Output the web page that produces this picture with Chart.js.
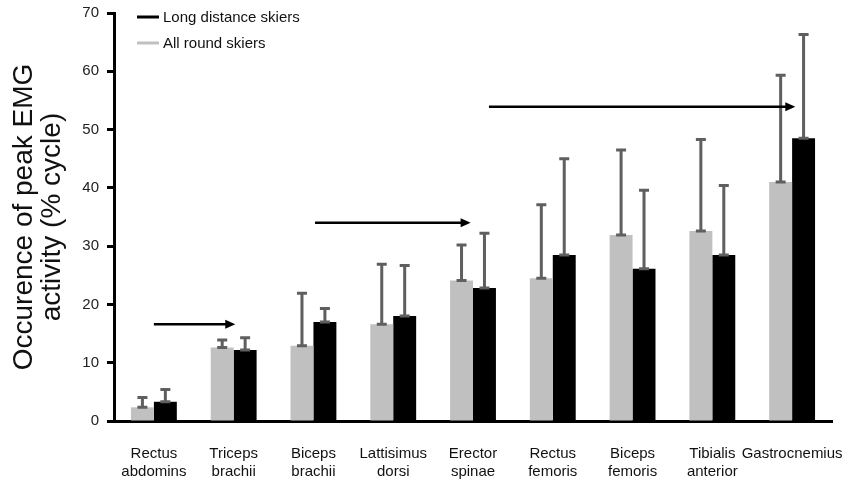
<!DOCTYPE html>
<html>
<head>
<meta charset="utf-8">
<script src="https://cdn.jsdelivr.net/npm/chart.js@4.4.1/dist/chart.umd.min.js"></script>
<style>
html,body{margin:0;padding:0;background:#fff;}
</style>
</head>
<body>
<canvas id="chart1" width="853" height="480"></canvas>
<script>
// muscle groups (x categories)
const muscles = [
  ["Rectus","abdomins"], ["Triceps","brachii"], ["Biceps","brachii"],
  ["Lattisimus","dorsi"], ["Erector","spinae"], ["Rectus","femoris"],
  ["Biceps","femoris"], ["Tibialis","anterior"], "Gastrocnemius"
]
// mean occurence of peak EMG (% cycle)
const allRound   = [2.35, 12.6, 12.9, 16.6, 24.1, 24.5, 31.9, 32.6, 41.0]
const allRoundSd = [1.7, 1.3, 9.0, 10.3, 6.1, 12.6, 14.6, 15.7, 18.3]
const longDist   = [3.3, 12.2, 17.0, 18.0, 22.8, 28.5, 26.1, 28.5, 48.5]
const longDistSd = [2.1, 2.1, 2.3, 8.7, 9.4, 16.5, 13.5, 11.9, 17.8]
// shift arrows: from/to in category units, y in % cycle
const arrows = [
  {from:0.0, to:1.02, y:16.6},
  {from:2.02, to:3.97, y:34.0},
  {from:4.2, to:8.04, y:53.9}
]
const yMax = 70
const yStep = 10

const font = "'Liberation Sans', Arial, sans-serif"

const errBars = {
  id:'errBars',
  afterDatasetsDraw(chart){
    const ctx = chart.ctx, ys = chart.scales.y
    chart.data.datasets.forEach((ds,i)=>{
      const meta = chart.getDatasetMeta(i)
      meta.data.forEach((bar,j)=>{
        const top = ys.getPixelForValue(ds.data[j] + ds.sd[j])
        ctx.save()
        ctx.strokeStyle = '#5f5f5f'
        ctx.lineWidth = 3
        ctx.beginPath()
        ctx.moveTo(bar.x, bar.y); ctx.lineTo(bar.x, top)
        ctx.moveTo(bar.x-5, top); ctx.lineTo(bar.x+5, top)
        ctx.moveTo(bar.x-5, bar.y); ctx.lineTo(bar.x+5, bar.y)
        ctx.stroke()
        ctx.restore()
      })
    })
  }
}

const arrowPlugin = {
  id:'arrows',
  afterDatasetsDraw(chart){
    const ctx = chart.ctx, xs = chart.scales.x, ys = chart.scales.y
    arrows.forEach(a=>{
      const x1 = xs.getPixelForValue(a.from), x2 = xs.getPixelForValue(a.to)
      const y = ys.getPixelForValue(a.y)
      ctx.save()
      ctx.strokeStyle = '#000'; ctx.fillStyle = '#000'
      ctx.lineWidth = 2.5
      ctx.beginPath(); ctx.moveTo(x1,y); ctx.lineTo(x2-8,y); ctx.stroke()
      ctx.beginPath(); ctx.moveTo(x2,y); ctx.lineTo(x2-10,y-4.5); ctx.lineTo(x2-10,y+4.5); ctx.closePath(); ctx.fill()
      ctx.restore()
    })
  }
}

const legendPlugin = {
  id:'legendBox',
  afterDraw(chart){
    const ctx = chart.ctx, area = chart.chartArea
    const items = [chart.data.datasets[1], chart.data.datasets[0]]
    items.forEach((ds,k)=>{
      const y = area.top + 4 + k*26
      const x = area.left + 23
      ctx.save()
      ctx.strokeStyle = ds.backgroundColor
      ctx.lineWidth = 3
      ctx.beginPath(); ctx.moveTo(x,y); ctx.lineTo(x+22,y); ctx.stroke()
      ctx.fillStyle = '#111'
      ctx.font = "15px " + font
      ctx.textBaseline = 'middle'
      ctx.fillText(ds.label, x+26, y+1)
      ctx.restore()
    })
  }
}

new Chart(document.getElementById("chart1"), {
  type:'bar',
  data:{
    labels: muscles,
    datasets:[
      {label:"All round skiers", data:allRound, sd:allRoundSd, backgroundColor:'#c0c0c0'},
      {label:"Long distance skiers", data:longDist, sd:longDistSd, backgroundColor:'#000000'}
    ]
  },
  options:{
    responsive:false,
    animation:false,
    layout:{padding:{top:13, right:21, left:0, bottom:0}},
    datasets:{bar:{categoryPercentage:0.575, barPercentage:1.0}},
    plugins:{legend:{display:false}, tooltip:{enabled:false}},
    scales:{
      x:{
        grid:{display:false, drawTicks:false},
        border:{display:true, color:'#000', width:3},
        ticks:{color:'#111', font:{family:font, size:15}, padding:24, maxRotation:0, autoSkip:false},
        afterFit(s){ s.height = 59; s.paddingLeft = 0; s.paddingRight = 0 }
      },
      y:{
        min:0, max:yMax,
        grid:{drawOnChartArea:false, drawTicks:true, tickLength:7, tickWidth:3, tickColor:'#000'},
        border:{display:true, color:'#000', width:3},
        ticks:{stepSize:yStep, color:'#222', font:{family:font, size:15}, padding:8},
        title:{display:true, text:["Occurence of peak EMG","activity (% cycle)"], color:'#111',
               font:{family:font, size:28, lineHeight:1.0}, padding:{top:10, bottom:0}},
        afterFit(s){ s.width = 114; s.paddingTop = 0; s.paddingBottom = 0 }
      }
    }
  },
  plugins:[errBars, arrowPlugin, legendPlugin]
})
</script>
</body>
</html>
